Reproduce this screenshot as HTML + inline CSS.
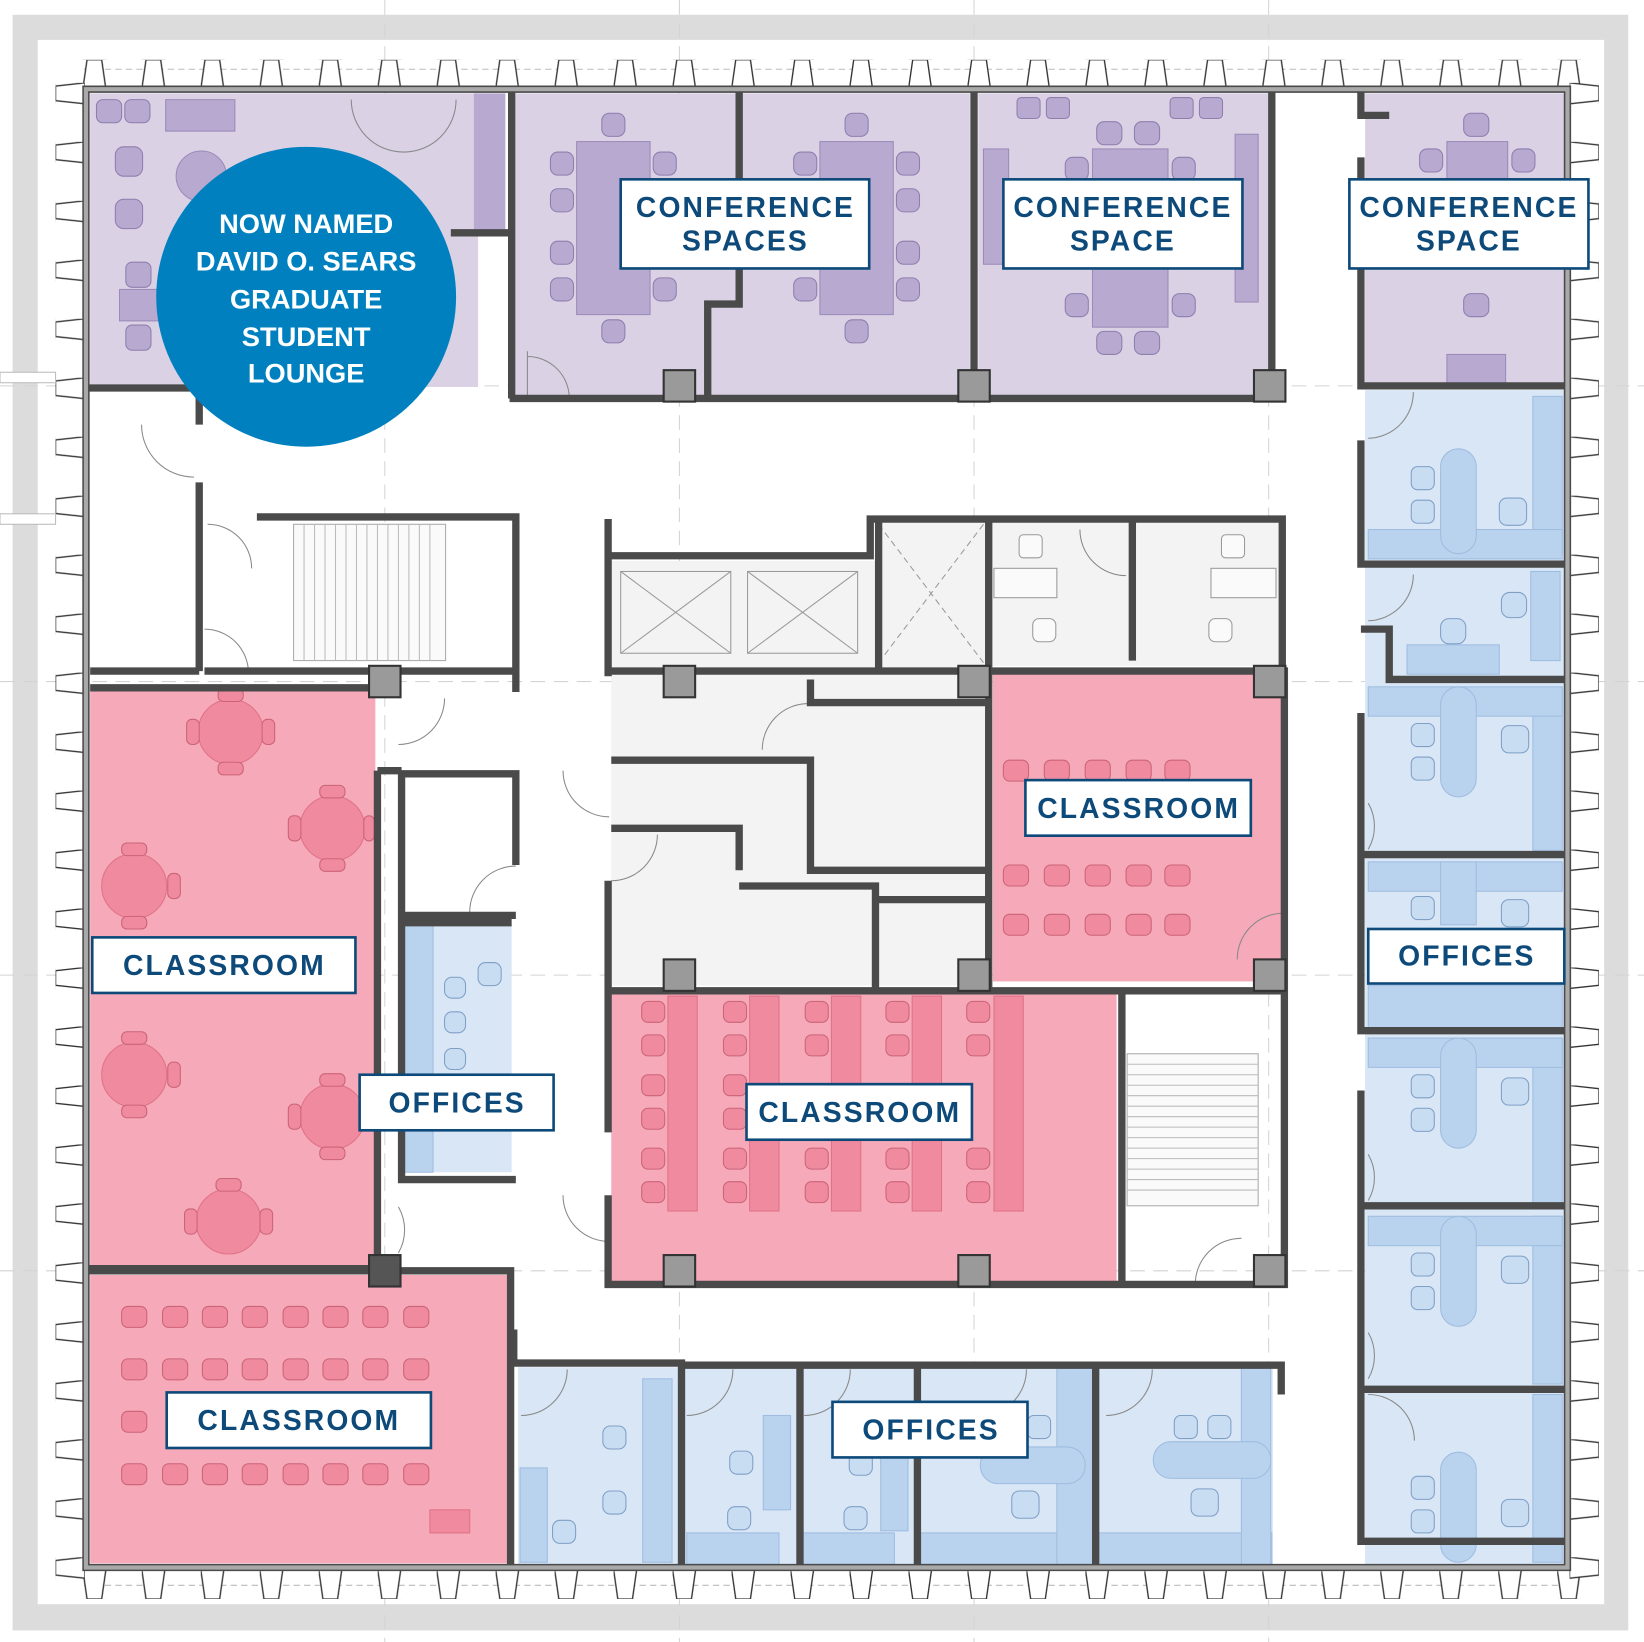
<!DOCTYPE html>
<html><head><meta charset="utf-8"><style>
html,body{margin:0;padding:0;background:#fff;}
svg{display:block;}
.lbl{font-family:"Liberation Sans",sans-serif;font-weight:bold;fill:#0d4a7a;font-size:27px;letter-spacing:2px;text-anchor:middle;}
.cir{font-family:"Liberation Sans",sans-serif;font-weight:bold;fill:#fff;font-size:26px;text-anchor:middle;}
.w{fill:none;stroke:#4a4a4a;stroke-width:7;stroke-linejoin:miter;}
.wi{fill:none;stroke:#a9a9a9;stroke-width:4;stroke-linejoin:miter;}
</style></head><body>
<svg width="1644" height="1642" viewBox="0 0 1568 1566" xmlns="http://www.w3.org/2000/svg">
<defs>
<pattern id="ft" x="79" y="57" width="56.25" height="28" patternUnits="userSpaceOnUse">
<path d="M4,0 L18,0 L22,28 L0,28 Z" fill="#fff" stroke="#333" stroke-width="1.3"/>
</pattern>
<pattern id="fb" x="79" y="1497" width="56.25" height="28" patternUnits="userSpaceOnUse">
<path d="M0,0 L22,0 L18,28 L4,28 Z" fill="#fff" stroke="#333" stroke-width="1.3"/>
</pattern>
<pattern id="fl" x="53" y="79" width="28" height="56.25" patternUnits="userSpaceOnUse">
<path d="M0,3 L28,0 L28,20 L0,17 Z" fill="#fff" stroke="#333" stroke-width="1.3"/>
</pattern>
<pattern id="fr" x="1497" y="79" width="28" height="56.25" patternUnits="userSpaceOnUse">
<path d="M0,0 L28,3 L28,17 L0,20 Z" fill="#fff" stroke="#333" stroke-width="1.3"/>
</pattern>
</defs>
<rect x="0" y="0" width="1568" height="1566" fill="#fff"/>
<rect x="12" y="14" width="1541" height="1541" fill="#dcdcdc"/>
<rect x="36" y="38" width="1494" height="1492" fill="#fff"/>
<g stroke="#d4d4d4" stroke-width="1" stroke-dasharray="14,8">
<line x1="367" y1="0" x2="367" y2="1566"/><line x1="648" y1="0" x2="648" y2="1566"/><line x1="929" y1="0" x2="929" y2="1566"/><line x1="1210" y1="0" x2="1210" y2="1566"/>
<line x1="0" y1="368" x2="1568" y2="368"/><line x1="0" y1="650" x2="1568" y2="650"/><line x1="0" y1="930" x2="1568" y2="930"/><line x1="0" y1="1212" x2="1568" y2="1212"/>
</g>
<line x1="80" y1="66" x2="1510" y2="66" stroke="#bbb" stroke-dasharray="6,4"/>
<line x1="80" y1="1512" x2="1510" y2="1512" stroke="#bbb" stroke-dasharray="6,4"/>
<rect x="60" y="57" width="1455" height="28" fill="url(#ft)"/>
<rect x="60" y="1497" width="1455" height="28" fill="url(#fb)"/>
<rect x="53" y="62" width="28" height="1455" fill="url(#fl)"/>
<rect x="1497" y="62" width="28" height="1455" fill="url(#fr)"/>
<rect x="0" y="355" width="53" height="10" fill="#fff" stroke="#bbb"/>
<rect x="0" y="490" width="53" height="10" fill="#fff" stroke="#bbb"/>

<rect x="86" y="89" width="370" height="280" fill="#dad1e5"/>
<rect x="452" y="89" width="30" height="130" fill="#b7a9cf"/>
<rect x="490" y="89" width="435" height="291" fill="#dad1e5"/>
<rect x="933" y="89" width="278" height="291" fill="#dad1e5"/>
<rect x="1302" y="89" width="190" height="277" fill="#dad1e5"/>
<g fill="#b7a9cf" stroke="#9b8bb8" stroke-width="1">
<rect x="158" y="95" width="66" height="30"/>
<circle cx="192" cy="168" r="24"/>
<rect x="114" y="276" width="60" height="30"/>
<rect x="550" y="135" width="70" height="165"/>
<rect x="782" y="135" width="70" height="165"/>
<rect x="1042" y="142" width="72" height="170"/>
<rect x="1380" y="135" width="58" height="50"/>
<rect x="1380" y="338" width="56" height="28"/>
<rect x="938" y="142" width="24" height="110"/>
<rect x="1178" y="128" width="22" height="160"/>
</g>
<g fill="#b7a9cf" stroke="#8e7eae" stroke-width="1">
<rect x="92" y="95" width="24" height="22" rx="6"/><rect x="119" y="95" width="24" height="22" rx="6"/>
<rect x="110" y="140" width="26" height="28" rx="8"/><rect x="110" y="190" width="26" height="28" rx="8"/>
<rect x="120" y="250" width="24" height="24" rx="6"/><rect x="120" y="310" width="24" height="24" rx="6"/>
<rect x="525" y="145" width="22" height="22" rx="7"/><rect x="525" y="180" width="22" height="22" rx="7"/><rect x="525" y="230" width="22" height="22" rx="7"/><rect x="525" y="265" width="22" height="22" rx="7"/>
<rect x="623" y="145" width="22" height="22" rx="7"/><rect x="623" y="265" width="22" height="22" rx="7"/>
<rect x="574" y="108" width="22" height="22" rx="7"/><rect x="574" y="305" width="22" height="22" rx="7"/>
<rect x="757" y="145" width="22" height="22" rx="7"/><rect x="757" y="265" width="22" height="22" rx="7"/>
<rect x="855" y="145" width="22" height="22" rx="7"/><rect x="855" y="180" width="22" height="22" rx="7"/><rect x="855" y="230" width="22" height="22" rx="7"/><rect x="855" y="265" width="22" height="22" rx="7"/>
<rect x="806" y="108" width="22" height="22" rx="7"/><rect x="806" y="305" width="22" height="22" rx="7"/>
<rect x="1046" y="116" width="24" height="22" rx="7"/><rect x="1082" y="116" width="24" height="22" rx="7"/>
<rect x="1046" y="316" width="24" height="22" rx="7"/><rect x="1082" y="316" width="24" height="22" rx="7"/>
<rect x="1016" y="150" width="22" height="22" rx="7"/><rect x="1016" y="280" width="22" height="22" rx="7"/>
<rect x="1118" y="150" width="22" height="22" rx="7"/><rect x="1118" y="280" width="22" height="22" rx="7"/>
<rect x="970" y="93" width="22" height="20" rx="4"/><rect x="998" y="93" width="22" height="20" rx="4"/>
<rect x="1116" y="93" width="22" height="20" rx="4"/><rect x="1144" y="93" width="22" height="20" rx="4"/>
<rect x="1396" y="108" width="24" height="22" rx="7"/><rect x="1396" y="280" width="24" height="22" rx="7"/>
<rect x="1354" y="142" width="22" height="22" rx="7"/><rect x="1442" y="142" width="22" height="22" rx="7"/>
</g>
<rect x="583" y="535" width="360" height="405" fill="#f3f3f3"/>
<rect x="835" y="497" width="108" height="138" fill="#f3f3f3"/>
<rect x="945" y="497" width="278" height="138" fill="#f3f3f3"/>
<g stroke="#999" stroke-width="1" fill="none">
<rect x="592" y="545" width="105" height="78"/><line x1="592" y1="545" x2="697" y2="623"/><line x1="697" y1="545" x2="592" y2="623"/>
<rect x="713" y="545" width="105" height="78"/><line x1="713" y1="545" x2="818" y2="623"/><line x1="818" y1="545" x2="713" y2="623"/>
<line x1="838" y1="500" x2="938" y2="632" stroke-dasharray="6,4"/><line x1="938" y1="500" x2="838" y2="632" stroke-dasharray="6,4"/>
</g>
<g stroke="#aaa" stroke-width="1">
<rect x="280" y="500" width="145" height="130" fill="#fafafa"/>
<rect x="1075" y="1005" width="125" height="145" fill="#fafafa"/>
</g>
<g stroke="#bbb" stroke-width="1">
<path d="M290,500v130M300,500v130M310,500v130M320,500v130M330,500v130M340,500v130M350,500v130M360,500v130M370,500v130M380,500v130M390,500v130M400,500v130M410,500v130"/>
<path d="M1075,1015h125M1075,1025h125M1075,1035h125M1075,1045h125M1075,1055h125M1075,1065h125M1075,1075h125M1075,1085h125M1075,1095h125M1075,1105h125M1075,1115h125M1075,1125h125M1075,1135h125"/>
</g>
<rect x="86" y="654" width="272" height="556" fill="#f5a9b9"/>
<rect x="86" y="1216" width="401" height="275" fill="#f5a9b9"/>
<rect x="583" y="947" width="482" height="278" fill="#f5a9b9"/>
<rect x="947" y="643" width="276" height="293" fill="#f5a9b9"/>
<g fill="#f08a9e" stroke="#e07287" stroke-width="1">
<circle cx="220" cy="698" r="31"/><circle cx="317" cy="790" r="31"/><circle cx="128" cy="845" r="31"/>
<circle cx="128" cy="1025" r="31"/><circle cx="317" cy="1065" r="31"/><circle cx="218" cy="1165" r="31"/>
<rect x="637" y="950" width="28" height="205"/><rect x="715" y="950" width="28" height="205"/><rect x="793" y="950" width="28" height="205"/><rect x="870" y="950" width="28" height="205"/><rect x="948" y="950" width="28" height="205"/>
<rect x="410" y="1440" width="38" height="22"/>
</g>
<g fill="#f08a9e" stroke="#cc6478" stroke-width="1">
<rect x="208" y="657" width="24" height="12" rx="5"/><rect x="208" y="727" width="24" height="12" rx="5"/><rect x="178" y="686" width="12" height="24" rx="5"/><rect x="250" y="686" width="12" height="24" rx="5"/>
<rect x="305" y="749" width="24" height="12" rx="5"/><rect x="305" y="819" width="24" height="12" rx="5"/><rect x="275" y="778" width="12" height="24" rx="5"/><rect x="347" y="778" width="10" height="24" rx="5"/>
<rect x="116" y="804" width="24" height="12" rx="5"/><rect x="116" y="874" width="24" height="12" rx="5"/><rect x="160" y="833" width="12" height="24" rx="5"/>
<rect x="116" y="984" width="24" height="12" rx="5"/><rect x="116" y="1054" width="24" height="12" rx="5"/><rect x="160" y="1013" width="12" height="24" rx="5"/>
<rect x="305" y="1024" width="24" height="12" rx="5"/><rect x="305" y="1094" width="24" height="12" rx="5"/><rect x="275" y="1053" width="12" height="24" rx="5"/>
<rect x="206" y="1124" width="24" height="12" rx="5"/><rect x="176" y="1153" width="12" height="24" rx="5"/><rect x="248" y="1153" width="12" height="24" rx="5"/>
</g>
<g fill="#f08a9e" stroke="#cc6478" stroke-width="1">
<rect x="116" y="1246" width="24" height="20" rx="6"/><rect x="155" y="1246" width="24" height="20" rx="6"/><rect x="193" y="1246" width="24" height="20" rx="6"/><rect x="231" y="1246" width="24" height="20" rx="6"/><rect x="270" y="1246" width="24" height="20" rx="6"/><rect x="308" y="1246" width="24" height="20" rx="6"/><rect x="346" y="1246" width="24" height="20" rx="6"/><rect x="385" y="1246" width="24" height="20" rx="6"/>
<rect x="116" y="1296" width="24" height="20" rx="6"/><rect x="155" y="1296" width="24" height="20" rx="6"/><rect x="193" y="1296" width="24" height="20" rx="6"/><rect x="231" y="1296" width="24" height="20" rx="6"/><rect x="270" y="1296" width="24" height="20" rx="6"/><rect x="308" y="1296" width="24" height="20" rx="6"/><rect x="346" y="1296" width="24" height="20" rx="6"/><rect x="385" y="1296" width="24" height="20" rx="6"/>
<rect x="116" y="1346" width="24" height="20" rx="6"/>
<rect x="116" y="1396" width="24" height="20" rx="6"/><rect x="155" y="1396" width="24" height="20" rx="6"/><rect x="193" y="1396" width="24" height="20" rx="6"/><rect x="231" y="1396" width="24" height="20" rx="6"/><rect x="270" y="1396" width="24" height="20" rx="6"/><rect x="308" y="1396" width="24" height="20" rx="6"/><rect x="346" y="1396" width="24" height="20" rx="6"/><rect x="385" y="1396" width="24" height="20" rx="6"/>
<rect x="957" y="725" width="24" height="20" rx="6"/><rect x="996" y="725" width="24" height="20" rx="6"/><rect x="1035" y="725" width="24" height="20" rx="6"/><rect x="1074" y="725" width="24" height="20" rx="6"/><rect x="1111" y="725" width="24" height="20" rx="6"/>
<rect x="957" y="825" width="24" height="20" rx="6"/><rect x="996" y="825" width="24" height="20" rx="6"/><rect x="1035" y="825" width="24" height="20" rx="6"/><rect x="1074" y="825" width="24" height="20" rx="6"/><rect x="1111" y="825" width="24" height="20" rx="6"/>
<rect x="957" y="872" width="24" height="20" rx="6"/><rect x="996" y="872" width="24" height="20" rx="6"/><rect x="1035" y="872" width="24" height="20" rx="6"/><rect x="1074" y="872" width="24" height="20" rx="6"/><rect x="1111" y="872" width="24" height="20" rx="6"/>
</g>
<g fill="#f08a9e" stroke="#cc6478" stroke-width="1">
<rect x="612" y="955" width="22" height="20" rx="6"/><rect x="612" y="987" width="22" height="20" rx="6"/><rect x="612" y="1025" width="22" height="20" rx="6"/><rect x="612" y="1057" width="22" height="20" rx="6"/><rect x="612" y="1095" width="22" height="20" rx="6"/><rect x="612" y="1127" width="22" height="20" rx="6"/>
<rect x="690" y="955" width="22" height="20" rx="6"/><rect x="690" y="987" width="22" height="20" rx="6"/><rect x="690" y="1025" width="22" height="20" rx="6"/><rect x="690" y="1057" width="22" height="20" rx="6"/><rect x="690" y="1095" width="22" height="20" rx="6"/><rect x="690" y="1127" width="22" height="20" rx="6"/>
<rect x="768" y="955" width="22" height="20" rx="6"/><rect x="768" y="987" width="22" height="20" rx="6"/><rect x="768" y="1095" width="22" height="20" rx="6"/><rect x="768" y="1127" width="22" height="20" rx="6"/>
<rect x="845" y="955" width="22" height="20" rx="6"/><rect x="845" y="987" width="22" height="20" rx="6"/><rect x="845" y="1095" width="22" height="20" rx="6"/><rect x="845" y="1127" width="22" height="20" rx="6"/>
<rect x="922" y="955" width="22" height="20" rx="6"/><rect x="922" y="987" width="22" height="20" rx="6"/><rect x="922" y="1095" width="22" height="20" rx="6"/><rect x="922" y="1127" width="22" height="20" rx="6"/>
</g>
<rect x="1302" y="372" width="190" height="1120" fill="#d8e6f5"/>
<rect x="383" y="882" width="105" height="236" fill="#d8e6f5"/>
<rect x="494" y="1304" width="720" height="188" fill="#d8e6f5"/>
<g fill="#b9d2ee" stroke="#9fbde0" stroke-width="1">
<rect x="383" y="882" width="30" height="236"/>
<rect x="1462" y="378" width="28" height="150"/><rect x="1305" y="505" width="185" height="28"/><rect x="1374" y="428" width="34" height="100" rx="17"/>
<rect x="1460" y="545" width="28" height="85"/><rect x="1342" y="615" width="88" height="28"/>
<rect x="1462" y="656" width="28" height="155"/><rect x="1305" y="655" width="185" height="28"/><rect x="1374" y="655" width="34" height="105" rx="17"/>
<rect x="1305" y="822" width="185" height="28"/><rect x="1374" y="822" width="34" height="60"/>
<rect x="1462" y="990" width="28" height="160"/><rect x="1305" y="990" width="185" height="28"/><rect x="1374" y="990" width="34" height="105" rx="17"/>
<rect x="1462" y="1160" width="28" height="160"/><rect x="1305" y="1160" width="185" height="28"/><rect x="1374" y="1160" width="34" height="105" rx="17"/>
<rect x="1462" y="1330" width="28" height="160"/><rect x="1374" y="1385" width="34" height="105" rx="17"/>
<rect x="1305" y="940" width="185" height="40"/>
<rect x="496" y="1400" width="26" height="90"/><rect x="613" y="1315" width="28" height="175"/>
<rect x="655" y="1462" width="88" height="30"/><rect x="728" y="1350" width="26" height="90"/>
<rect x="765" y="1462" width="88" height="30"/><rect x="840" y="1390" width="26" height="70"/>
<rect x="878" y="1462" width="165" height="30"/><rect x="1008" y="1305" width="34" height="187"/><rect x="935" y="1380" width="100" height="35" rx="17"/>
<rect x="1048" y="1462" width="165" height="30"/><rect x="1184" y="1305" width="28" height="187"/><rect x="1100" y="1375" width="112" height="35" rx="17"/>
</g>
<g fill="#c8dcf2" stroke="#7f9fc6" stroke-width="1">
<rect x="1346" y="445" width="22" height="22" rx="6"/><rect x="1346" y="477" width="22" height="22" rx="6"/><rect x="1430" y="475" width="26" height="26" rx="7"/>
<rect x="1432" y="565" width="24" height="24" rx="8"/><rect x="1374" y="590" width="24" height="24" rx="8"/>
<rect x="1346" y="690" width="22" height="22" rx="6"/><rect x="1346" y="722" width="22" height="22" rx="6"/><rect x="1432" y="692" width="26" height="26" rx="7"/>
<rect x="1346" y="855" width="22" height="22" rx="6"/><rect x="1432" y="858" width="26" height="26" rx="7"/>
<rect x="1346" y="1025" width="22" height="22" rx="6"/><rect x="1346" y="1057" width="22" height="22" rx="6"/><rect x="1432" y="1028" width="26" height="26" rx="7"/>
<rect x="1346" y="1195" width="22" height="22" rx="6"/><rect x="1346" y="1227" width="22" height="22" rx="6"/><rect x="1432" y="1198" width="26" height="26" rx="7"/>
<rect x="1346" y="1408" width="22" height="22" rx="6"/><rect x="1346" y="1440" width="22" height="22" rx="6"/><rect x="1432" y="1430" width="26" height="26" rx="7"/>
<rect x="424" y="932" width="20" height="20" rx="7"/><rect x="424" y="965" width="20" height="20" rx="7"/><rect x="424" y="1000" width="20" height="20" rx="7"/><rect x="456" y="918" width="22" height="22" rx="7"/>
<rect x="575" y="1360" width="22" height="22" rx="7"/><rect x="575" y="1422" width="22" height="22" rx="7"/><rect x="527" y="1450" width="22" height="22" rx="7"/>
<rect x="696" y="1384" width="22" height="22" rx="7"/><rect x="694" y="1437" width="22" height="22" rx="7"/>
<rect x="805" y="1437" width="22" height="22" rx="7"/><rect x="810" y="1385" width="22" height="22" rx="7"/>
<rect x="980" y="1350" width="22" height="22" rx="6"/><rect x="965" y="1422" width="26" height="26" rx="7"/>
<rect x="1120" y="1350" width="22" height="22" rx="6"/><rect x="1152" y="1350" width="22" height="22" rx="6"/><rect x="1136" y="1420" width="26" height="26" rx="7"/>
</g>
<g fill="#fafafa" stroke="#999" stroke-width="1">
<rect x="948" y="542" width="60" height="28"/><rect x="1155" y="542" width="62" height="28"/>
<rect x="985" y="590" width="22" height="22" rx="6"/><rect x="1153" y="590" width="22" height="22" rx="6"/>
<rect x="972" y="510" width="22" height="22" rx="4"/><rect x="1165" y="510" width="22" height="22" rx="4"/>
</g>
<g fill="none" stroke="#888" stroke-width="1">
<path d="M335,95 a50,50 0 0 0 100,0"/><path d="M503,335 v45 h40 a40,40 0 0 0 -40,-40"/>
<path d="M1305,418 a44,44 0 0 0 43,-44"/><path d="M1305,592 a44,44 0 0 0 43,-44"/>
<path d="M1305,810 a44,44 0 0 0 0,-44"/><path d="M1305,1145 a44,44 0 0 0 0,-44"/><path d="M1305,1315 a44,44 0 0 0 0,-44"/><path d="M1305,1330 a44,44 0 0 1 44,44"/>
<path d="M135,405 a50,50 0 0 0 50,50"/><path d="M195,600 a42,42 0 0 1 42,42"/><path d="M198,500 a42,42 0 0 1 42,42"/>
<path d="M537,735 a44,44 0 0 0 44,44"/><path d="M537,1140 a44,44 0 0 0 44,44"/>
<path d="M583,840 a44,44 0 0 0 44,-44"/><path d="M727,715 a44,44 0 0 1 44,-44"/>
<path d="M380,710 a44,44 0 0 0 44,-44"/><path d="M380,1195 a44,44 0 0 0 0,-44"/><path d="M448,870 a44,44 0 0 1 44,-44"/>
<path d="M1180,915 a44,44 0 0 1 44,-44"/><path d="M1140,1225 a44,44 0 0 1 44,-44"/>
<path d="M1030,505 a44,44 0 0 0 44,44"/><path d="M497,1350 a44,44 0 0 0 44,-44"/><path d="M655,1350 a44,44 0 0 0 44,-44"/><path d="M767,1350 a44,44 0 0 0 44,-44"/><path d="M935,1350 a44,44 0 0 0 44,-44"/><path d="M1055,1350 a44,44 0 0 0 44,-44"/>
</g>

<g>
<path class="w" d="M82,85 H1495 V1495 H82 Z"/>
<path class="w" d="M82,370 H190 V405 M190,460 V640 M86,640 H190 M190,490 V640 M245,493 H492 V660 M195,640 H492 M86,656 H358"/>
<path class="w" d="M488,88 V380 M430,222 H488 M486,380 H1215 M705,88 V290 H675 V380 M929,88 V380 M1213,88 V380 M1298,88 V110 H1325 M1298,150 V368 H1495"/>
<path class="w" d="M1298,420 V538 H1495 M1298,600 H1325 V648 H1495 M1298,680 V815 H1495 M1298,815 V983 H1495 M1298,1040 V1150 H1495 M1298,1150 V1325 H1495 M1298,1325 V1470 H1495"/>
<path class="w" d="M360,735 V1210 H82 M360,735 H383 M383,738 V1125 H492 M383,738 H492 V825 M383,873 H492 M383,880 H488"/>
<path class="w" d="M82,1212 H487 V1495 M490,1268 V1300 H650 V1495 M650,1302 H763 V1495 M763,1302 H875 V1495 M875,1302 H1045 V1495 M1045,1302 H1222 V1330"/>
<path class="w" d="M580,495 V645 M580,530 H830 V495 H1223 V645 M838,495 V640 M943,495 V945 M1080,495 V630 M580,640 H945 M773,648 V670 H945 M583,725 H773 V830 H945 M583,790 H705 V830 M705,845 H835 V945 M835,858 H945 M580,840 V945 M580,945 H1070 V1225 H580 V1140 M580,1080 V945 M1070,945 H1225 M945,640 H1225 V945 M1225,945 V1225 H1070"/>
</g>
<path class="wi" d="M82,85 H1495 V1495 H82 Z"/>
<g fill="#9a9a9a" stroke="#333" stroke-width="2">
<rect x="633" y="353" width="30" height="30"/><rect x="914" y="353" width="30" height="30"/><rect x="1196" y="353" width="30" height="30"/>
<rect x="352" y="635" width="30" height="30"/><rect x="633" y="635" width="30" height="30"/><rect x="914" y="635" width="30" height="30"/><rect x="1196" y="635" width="30" height="30"/>
<rect x="633" y="915" width="30" height="30"/><rect x="914" y="915" width="30" height="30"/><rect x="1196" y="915" width="30" height="30"/>
<rect x="352" y="1197" width="30" height="30" fill="#555"/><rect x="633" y="1197" width="30" height="30"/><rect x="914" y="1197" width="30" height="30"/><rect x="1196" y="1197" width="30" height="30"/>
</g>

<circle cx="292" cy="283" r="143" fill="#0080bf"/>
<text class="cir" x="292" y="222">NOW NAMED</text>
<text class="cir" x="292" y="258">DAVID O. SEARS</text>
<text class="cir" x="292" y="294">GRADUATE</text>
<text class="cir" x="292" y="330">STUDENT</text>
<text class="cir" x="292" y="365">LOUNGE</text>

<g fill="#fff" stroke="#0d4a7a" stroke-width="2.5">
<rect x="592" y="171" width="237" height="85"/>
<rect x="957" y="171" width="228" height="85"/>
<rect x="1287" y="171" width="228" height="85"/>
<rect x="978" y="744" width="215" height="53"/>
<rect x="88" y="894" width="251" height="53"/>
<rect x="1305" y="886" width="187" height="52"/>
<rect x="343" y="1025" width="185" height="53"/>
<rect x="712" y="1034" width="215" height="53"/>
<rect x="159" y="1328" width="252" height="53"/>
<rect x="794" y="1337" width="186" height="53"/>
</g>
<text class="lbl" x="711" y="207">CONFERENCE</text><text class="lbl" x="711" y="239">SPACES</text>
<text class="lbl" x="1071" y="207">CONFERENCE</text><text class="lbl" x="1071" y="239">SPACE</text>
<text class="lbl" x="1401" y="207">CONFERENCE</text><text class="lbl" x="1401" y="239">SPACE</text>
<text class="lbl" x="1086" y="780">CLASSROOM</text>
<text class="lbl" x="214" y="930">CLASSROOM</text>
<text class="lbl" x="1399" y="921">OFFICES</text>
<text class="lbl" x="436" y="1061">OFFICES</text>
<text class="lbl" x="820" y="1070">CLASSROOM</text>
<text class="lbl" x="285" y="1364">CLASSROOM</text>
<text class="lbl" x="888" y="1373">OFFICES</text>
</svg>
</body></html>
